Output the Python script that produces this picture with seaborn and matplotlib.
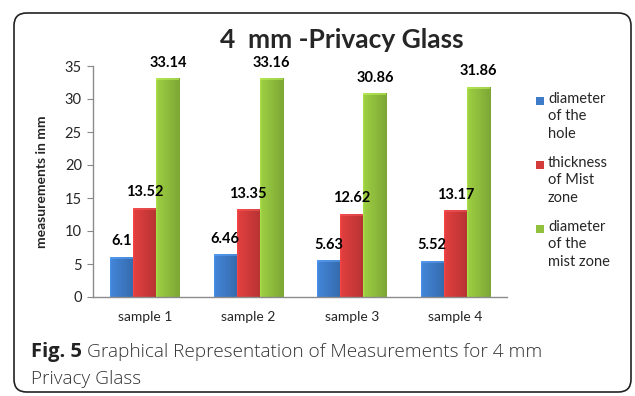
import numpy as np
import pandas as pd
import matplotlib
matplotlib.use("Agg")
import matplotlib.pyplot as plt
from matplotlib.patches import FancyBboxPatch, Rectangle
from matplotlib.colors import to_rgb
import seaborn as sns

# Data
samples = ["sample 1", "sample 2", "sample 3", "sample 4"]
hole_diameter = [6.1, 6.46, 5.63, 5.52]
mist_thickness = [13.52, 13.35, 12.62, 13.17]
mist_diameter = [33.14, 33.16, 30.86, 31.86]
series_names = ["diameter\nof the\nhole", "thickness\nof Mist\nzone", "diameter\nof the\nmist zone"]
colors = ["#3e7cc9", "#d43b3b", "#92c13e"]

df = pd.DataFrame({
    "sample": samples * 3,
    "value": hole_diameter + mist_thickness + mist_diameter,
    "series": [series_names[0]] * 4 + [series_names[1]] * 4 + [series_names[2]] * 4,
})

sns.set_style("white")
plt.rcParams["font.family"] = ["Lato", "DejaVu Sans"]

W, H = 635, 396
fig = plt.figure(figsize=(W / 100, H / 100), dpi=100)

# Rounded panel frame
frame = FancyBboxPatch((14 / W, 4 / H), 617 / W, 379 / H,
                       boxstyle="round,pad=0,rounding_size=0.02",
                       transform=fig.transFigure, fill=False,
                       edgecolor="#222222", linewidth=1.2, mutation_aspect=W / H)
fig.patches.append(frame)

ax = fig.add_axes([93 / W, 1 - 297 / H, 414 / W, 231 / H])
sns.barplot(data=df, x="sample", y="value", hue="series", palette=colors,
            saturation=1, width=0.67, gap=0, ax=ax, legend=False)

# Shaded bar faces
for patch in list(ax.patches):
    x0, y0 = patch.get_x(), patch.get_y()
    w, h = patch.get_width(), patch.get_height()
    if h <= 0:
        continue
    base = np.array(to_rgb(patch.get_facecolor()))
    n = 40
    t = np.linspace(0, 1, n)
    shade = 1.08 - 0.22 * t
    shade[:2] += 0.08
    row = np.clip(base[None, :] * shade[:, None], 0, 1)
    img = np.repeat(row[None, :, :], 10, axis=0)
    im = ax.imshow(img, extent=(x0, x0 + w, y0, y0 + h), aspect="auto",
                   zorder=patch.get_zorder() + 0.1, interpolation="bilinear")
    im.set_clip_path(patch)
    # soft highlight along the top edge
    cap_h = 0.3
    cap = Rectangle((x0, y0 + h - cap_h), w, cap_h,
                    facecolor=np.clip(base * 1.2 + 0.08, 0, 1),
                    edgecolor="none", zorder=patch.get_zorder() + 0.2, alpha=0.5)
    ax.add_patch(cap)

for container in ax.containers:
    ax.bar_label(container, labels=[f"{v:g}" for v in container.datavalues],
                 padding=6, fontsize=10.5, fontweight="bold", color="black")

ax.set_xlim(-0.5, 3.5)
ax.set_ylim(0, 35)
ax.set_yticks(range(0, 36, 5))
ax.set_xlabel("")
ax.set_ylabel("measurements in mm", fontsize=10, fontweight="bold", labelpad=12)
ax.tick_params(axis="y", labelsize=10.5, length=4, width=0.8, color="#888888",
               left=True, pad=4)
ax.tick_params(axis="x", labelsize=10, length=0, pad=10)
for s in ["top", "right"]:
    ax.spines[s].set_visible(False)
for s in ["left", "bottom"]:
    ax.spines[s].set_color("#8c8c8c")
    ax.spines[s].set_linewidth(1.0)

# Title
fig.text(342 / W, 1 - 40 / H, "4  mm -Privacy Glass", ha="center", va="center",
         fontsize=19, fontweight="bold")

# Legend
for i, (name, c) in enumerate(zip(series_names, colors)):
    ytop = 92 + i * 64
    fig.patches.append(Rectangle((536 / W, 1 - (ytop + 13) / H), 8 / W, 8 / H,
                                 transform=fig.transFigure, facecolor=c,
                                 edgecolor="none"))
    fig.text(548 / W, 1 - ytop / H, name, ha="left", va="top", fontsize=10.5,
             linespacing=1.3)

# Caption
fig.canvas.draw()
r = fig.canvas.get_renderer()
cap_y = 1 - 357 / H
t1 = fig.text(31 / W, cap_y, "Fig. 5", fontsize=14.5, fontweight="bold",
              family="Open Sans", va="baseline", color="#222222")
bb = t1.get_window_extent(renderer=r)
fig.text((bb.x1 + 5) / W, cap_y, "Graphical Representation of Measurements for 4 mm",
         fontsize=13.7, family="Open Sans", fontweight="light", va="baseline",
         color="#333333")
fig.text(31 / W, 1 - 384 / H, "Privacy Glass", fontsize=13.7, family="Open Sans",
         fontweight="light", va="baseline", color="#333333")

fig.savefig("out.png", dpi=100)
